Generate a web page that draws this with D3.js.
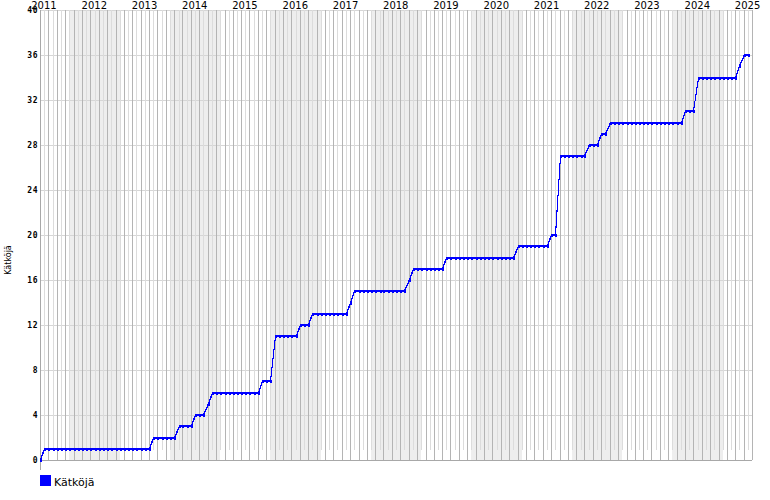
<!DOCTYPE html>
<html><head><meta charset="utf-8">
<script src="https://cdn.jsdelivr.net/npm/d3@7"></script>
<style>body{margin:0;background:#fff}svg{display:block}</style>
</head><body><svg id="c" width="770" height="500"></svg>
<script>
// ---- data ----
const seriesName = "Kätköjä";
const axisTitle = "Kätköjä";
const firstMonth = [2011, 4];          // May 2011 (year, monthIndex)
const lastDomainMonth = [2025, 6];     // Jul 2025 (right edge)
// cumulative caches at the start of each month, May 2011 .. Jun 2025
const counts = [
  0,
  1,1,1,1,1,1,1,1,1,1,1,1,1,1,1,1,1,1,1,1,1,1,1,1,1,1,
  2,2,2,2,2,2,
  3,3,3,3,
  4,4,4,
  5,
  6,6,6,6,6,6,6,6,6,6,6,6,
  7,7,7,
  11,11,11,11,11,11,
  12,12,12,
  13,13,13,13,13,13,13,13,13,
  14,
  15,15,15,15,15,15,15,15,15,15,15,15,15,
  16,
  17,17,17,17,17,17,17,17,
  18,18,18,18,18,18,18,18,18,18,18,18,18,18,18,18,18,
  19,19,19,19,19,19,19,19,
  20,20,
  27,27,27,27,27,27,27,
  28,28,28,
  29,29,
  30,30,30,30,30,30,30,30,30,30,30,30,30,30,30,30,30,30,
  31,31,31,
  34,34,34,34,34,34,34,34,34,34,
  35,
  36,36
];
const years = [2011,2012,2013,2014,2015,2016,2017,2018,2019,2020,2021,2022,2023,2024,2025];
const shadedYears = [2012,2014,2016,2018,2020,2022,2024];
const yTicks = [0,4,8,12,16,20,24,28,32,36,40];

// ---- layout ----
const L = 40, R = 752, T = 10, B = 460;
const svg = d3.select("#c");
const start = new Date(firstMonth[0], firstMonth[1], 1);
const end = new Date(lastDomainMonth[0], lastDomainMonth[1], 1);
const x = d3.scaleTime().domain([start, end]).range([L, R]);
const y = d3.scaleLinear().domain([0, 40]).range([B, T]);

const data = counts.map((v, i) => ({date: d3.timeMonth.offset(start, i), v}));

// shaded bands
svg.append("g").selectAll("rect").data(shadedYears).join("rect")
  .attr("x", d => Math.round(x(new Date(d - 1, 11, 1))))
  .attr("width", d => Math.round(x(new Date(d, 11, 1))) - Math.round(x(new Date(d - 1, 11, 1))))
  .attr("y", T).attr("height", B - T)
  .attr("fill", "#eeeeee");

// horizontal grid
svg.append("g").selectAll("line").data(yTicks).join("line")
  .attr("x1", L).attr("x2", R)
  .attr("y1", d => Math.round(y(d)) + 0.5).attr("y2", d => Math.round(y(d)) + 0.5)
  .attr("stroke", "#d6d6d6").attr("stroke-width", 1);

// vertical month grid
const months = d3.timeMonth.range(d3.timeMonth.offset(start, 1), d3.timeMonth.offset(end, 1));
svg.append("g").selectAll("line").data(months).join("line")
  .attr("x1", d => Math.round(x(d)) + 0.5).attr("x2", d => Math.round(x(d)) + 0.5)
  .attr("y1", T)
  .attr("y2", d => d.getMonth() % 2 === 0 ? B : B - 10)
  .attr("stroke", d => d.getMonth() % 2 === 0 ? "#b4b4b4" : "#dcdcdc")
  .attr("stroke-width", 1);

// axes lines
svg.append("line").attr("x1", L).attr("x2", R).attr("y1", B + 0.5).attr("y2", B + 0.5)
  .attr("stroke", "#a8a8a8");
svg.append("line").attr("x1", L + 0.5).attr("x2", L + 0.5).attr("y1", T).attr("y2", B + 10)
  .attr("stroke", "#a8a8a8");

// y tick labels
const yAxis = d3.axisLeft(y).tickValues(yTicks).tickSize(0).tickPadding(2);
const gy = svg.append("g").attr("transform", `translate(${L},0)`).call(yAxis);
gy.select(".domain").remove();
gy.selectAll("text").attr("font-family", "DejaVu Sans Mono").attr("font-size", 8)
  .attr("font-weight", "bold").attr("fill", "#000").attr("letter-spacing", "0.5px");

// year labels
const xAxis = d3.axisTop(x).tickValues(years.map(yr => new Date(yr, 4, 26)))
  .tickFormat(d3.timeFormat("%Y")).tickSize(0).tickPadding(0);
const gx = svg.append("g").attr("transform", `translate(0,${T})`).call(xAxis);
gx.select(".domain").remove();
gx.selectAll("text").attr("font-family", "DejaVu Sans").attr("font-size", 10)
  .attr("fill", "#000").attr("dy", "-0.1em");

// axis title
svg.append("text").attr("transform", `translate(11,260) rotate(-90)`)
  .attr("text-anchor", "middle").attr("font-family", "DejaVu Sans").attr("font-size", 8)
  .attr("fill", "#000").text(axisTitle);

// series line (aliased, two passes for 2px flats)
const line = d3.line().x(d => Math.round(x(d.date)) + 0.5).y(d => Math.round(y(d.v)) + 0.5);
[0, -1].forEach(off => {
  svg.append("path").datum(data).attr("d", line)
    .attr("transform", `translate(0,${off})`)
    .attr("fill", "none").attr("stroke", "#0000ff").attr("stroke-width", 1)
    .attr("shape-rendering", "crispEdges");
});
svg.append("g").selectAll("rect").data(data).join("rect")
  .attr("x", d => Math.round(x(d.date)) - 0.5)
  .attr("y", d => Math.round(y(d.v)) - 1)
  .attr("width", 2).attr("height", 3)
  .attr("fill", "#0000ff").attr("shape-rendering", "crispEdges");

// legend
svg.append("rect").attr("x", 40).attr("y", 475).attr("width", 11).attr("height", 11).attr("fill", "#0000ff");
svg.append("text").attr("x", 54).attr("y", 485.5).attr("font-family", "DejaVu Sans").attr("font-size", 11)
  .attr("fill", "#000").text(seriesName);
</script>
</body></html>
